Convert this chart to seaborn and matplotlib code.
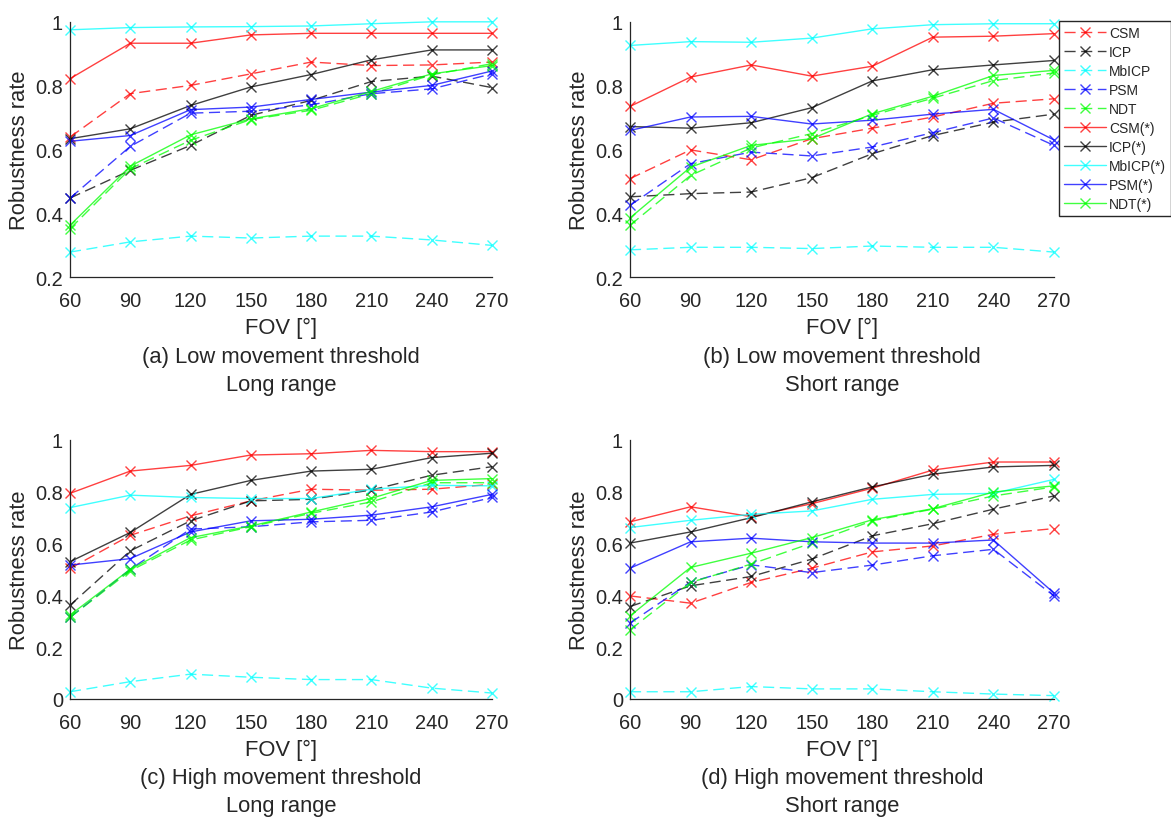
import matplotlib
matplotlib.use("Agg")
import matplotlib.pyplot as plt
import matplotlib.transforms as mtransforms
import seaborn as sns

# Style
sns.set_theme(style="white")
plt.rcParams['font.family'] = ['Liberation Sans', 'DejaVu Sans']
TEXT = '#262626'

# --- Data ---
fov = [60, 90, 120, 150, 180, 210, 240, 270]
methods = ['CSM', 'ICP', 'MbICP', 'PSM', 'NDT']
method_colors = ['#ff0000', '#000000', '#00ffff', '#0000ff', '#00ff00']

# (a) Low movement threshold, long range
low_long = {
    'CSM':      [0.638, 0.774, 0.800, 0.836, 0.873, 0.862, 0.864, 0.873],
    'ICP':      [0.447, 0.534, 0.612, 0.706, 0.753, 0.812, 0.829, 0.793],
    'MbICP':    [0.278, 0.310, 0.328, 0.322, 0.328, 0.328, 0.316, 0.299],
    'PSM':      [0.447, 0.609, 0.713, 0.719, 0.739, 0.774, 0.789, 0.836],
    'NDT':      [0.351, 0.539, 0.628, 0.693, 0.722, 0.774, 0.833, 0.868],
    'CSM(*)':   [0.821, 0.932, 0.932, 0.958, 0.963, 0.963, 0.963, 0.963],
    'ICP(*)':   [0.633, 0.664, 0.737, 0.795, 0.834, 0.880, 0.911, 0.911],
    'MbICP(*)': [0.974, 0.981, 0.983, 0.984, 0.986, 0.993, 0.999, 0.999],
    'PSM(*)':   [0.625, 0.643, 0.724, 0.732, 0.756, 0.779, 0.800, 0.845],
    'NDT(*)':   [0.362, 0.547, 0.645, 0.695, 0.727, 0.781, 0.836, 0.862],
}

# (b) Low movement threshold, short range
low_short = {
    'CSM':      [0.508, 0.598, 0.567, 0.633, 0.666, 0.701, 0.744, 0.758],
    'ICP':      [0.451, 0.461, 0.466, 0.511, 0.586, 0.643, 0.685, 0.710],
    'MbICP':    [0.285, 0.293, 0.293, 0.289, 0.297, 0.293, 0.293, 0.278],
    'PSM':      [0.424, 0.555, 0.591, 0.579, 0.607, 0.652, 0.698, 0.612],
    'NDT':      [0.362, 0.518, 0.604, 0.649, 0.706, 0.760, 0.815, 0.839],
    'CSM(*)':   [0.734, 0.826, 0.864, 0.829, 0.860, 0.951, 0.954, 0.962],
    'ICP(*)':   [0.671, 0.666, 0.683, 0.730, 0.814, 0.849, 0.864, 0.878],
    'MbICP(*)': [0.925, 0.937, 0.935, 0.948, 0.977, 0.990, 0.993, 0.993],
    'PSM(*)':   [0.659, 0.701, 0.703, 0.679, 0.691, 0.710, 0.725, 0.629],
    'NDT(*)':   [0.385, 0.544, 0.612, 0.633, 0.711, 0.766, 0.831, 0.847],
}

# (c) High movement threshold, long range
high_long = {
    'CSM':      [0.504, 0.632, 0.707, 0.765, 0.810, 0.806, 0.810, 0.829],
    'ICP':      [0.362, 0.572, 0.688, 0.765, 0.771, 0.807, 0.864, 0.897],
    'MbICP':    [0.028, 0.067, 0.096, 0.084, 0.075, 0.075, 0.042, 0.023],
    'PSM':      [0.315, 0.501, 0.656, 0.665, 0.684, 0.690, 0.722, 0.778],
    'NDT':      [0.315, 0.495, 0.614, 0.665, 0.717, 0.761, 0.835, 0.835],
    'CSM(*)':   [0.794, 0.880, 0.902, 0.942, 0.947, 0.960, 0.955, 0.955],
    'ICP(*)':   [0.530, 0.643, 0.790, 0.844, 0.880, 0.887, 0.932, 0.949],
    'MbICP(*)': [0.739, 0.787, 0.778, 0.774, 0.774, 0.810, 0.825, 0.823],
    'PSM(*)':   [0.517, 0.542, 0.645, 0.688, 0.694, 0.710, 0.742, 0.790],
    'NDT(*)':   [0.324, 0.501, 0.623, 0.668, 0.722, 0.775, 0.844, 0.851],
}

# (d) High movement threshold, short range
high_short = {
    'CSM':      [0.398, 0.370, 0.450, 0.505, 0.568, 0.591, 0.636, 0.658],
    'ICP':      [0.357, 0.437, 0.473, 0.540, 0.630, 0.677, 0.733, 0.784],
    'MbICP':    [0.028, 0.028, 0.048, 0.039, 0.039, 0.028, 0.019, 0.013],
    'PSM':      [0.293, 0.452, 0.518, 0.488, 0.517, 0.553, 0.578, 0.398],
    'NDT':      [0.267, 0.450, 0.521, 0.602, 0.688, 0.733, 0.784, 0.819],
    'CSM(*)':   [0.684, 0.742, 0.704, 0.754, 0.814, 0.884, 0.915, 0.915],
    'ICP(*)':   [0.602, 0.645, 0.700, 0.761, 0.819, 0.868, 0.896, 0.902],
    'MbICP(*)': [0.662, 0.690, 0.713, 0.726, 0.771, 0.790, 0.794, 0.848],
    'PSM(*)':   [0.505, 0.607, 0.621, 0.607, 0.602, 0.602, 0.614, 0.409],
    'NDT(*)':   [0.321, 0.508, 0.563, 0.623, 0.692, 0.735, 0.799, 0.823],
}

captions = [
    ('(a) Low movement threshold', 'Long range'),
    ('(b) Low movement threshold', 'Short range'),
    ('(c) High movement threshold', 'Long range'),
    ('(d) High movement threshold', 'Short range'),
]
yticks_top = [0.2, 0.4, 0.6, 0.8, 1.0]
ytick_labels_top = ['0.2', '0.4', '0.6', '0.8', '1']
yticks_bottom = [0.0, 0.2, 0.4, 0.6, 0.8, 1.0]
ytick_labels_bottom = ['0', '0.2', '0.4', '0.6', '0.8', '1']

# --- Figure ---
W, H = 1171, 820
fig = plt.figure(figsize=(W / 100, H / 100), dpi=100)

def box(x0, x1, y0, y1):
    return [x0 / W, 1 - y1 / H, (x1 - x0) / W, (y1 - y0) / H]

axes = [
    fig.add_axes(box(70, 492, 22.5, 278)),
    fig.add_axes(box(630, 1054, 22.5, 278)),
    fig.add_axes(box(70, 492, 441, 700)),
    fig.add_axes(box(630, 1054, 441, 700)),
]
panels = [low_long, low_short, high_long, high_short]

for i, (ax, data) in enumerate(zip(axes, panels)):
    for variant in ['', '(*)']:
        for m, c in zip(methods, method_colors):
            name = m + variant
            sns.lineplot(x=fov, y=data[name], ax=ax, color=c,
                         linewidth=1.0, alpha=0.75, label=name, legend=False)
            # seaborn paints marker edges white by default; 'x' needs coloured edges
            line = ax.lines[-1]
            line.set_marker('x')
            line.set_markersize(7)
            line.set_markeredgewidth(1.0)
            line.set_markeredgecolor(c)
            line.set_clip_on(False)
            if variant:
                line.set_linestyle('-')
            else:
                line.set_linestyle((0, (8, 4)))
    if ax.get_legend() is not None:
        ax.get_legend().remove()

    ax.set_xlim(60, 270)
    ax.set_xticks(fov)
    ax.set_xticklabels([str(v) for v in fov])
    if i < 2:
        ax.set_ylim(0.2, 1.0)
        ax.set_yticks(yticks_top)
        ax.set_yticklabels(ytick_labels_top)
    else:
        ax.set_ylim(0.0, 1.0)
        ax.set_yticks(yticks_bottom)
        ax.set_yticklabels(ytick_labels_bottom)

    for s in ['top', 'right']:
        ax.spines[s].set_visible(False)
    for s in ['left', 'bottom']:
        ax.spines[s].set_color(TEXT)
        ax.spines[s].set_linewidth(0.9)
    ax.tick_params(direction='in', length=3.5, width=0.9, color=TEXT,
                   labelcolor=TEXT, labelsize=14.4)
    ax.tick_params(axis='x', pad=10)
    ax.tick_params(axis='y', pad=5)
    ax.set_xlabel('')
    ax.set_ylabel('Robustness rate', fontsize=15.8, color=TEXT, labelpad=4)

    for dy, txt in [(50, 'FOV [°]'), (79, captions[i][0]), (107, captions[i][1])]:
        tr = mtransforms.offset_copy(ax.transAxes, fig=fig, x=0, y=-dy, units='dots')
        ax.text(0.5, 0.0, txt, transform=tr, ha='center', va='center',
                fontsize=15.8, color=TEXT)

handles, labels = axes[1].get_legend_handles_labels()
fig.legend(handles, labels, loc='upper left',
           bbox_to_anchor=(1059 / W, 1 - 22 / H), borderaxespad=0,
           frameon=True, fancybox=False, edgecolor=TEXT, framealpha=1,
           fontsize=10, handlelength=3.0, labelspacing=0.36,
           borderpad=0.35, handletextpad=0.25, labelcolor=TEXT)

fig.savefig('out.png', dpi=100)
